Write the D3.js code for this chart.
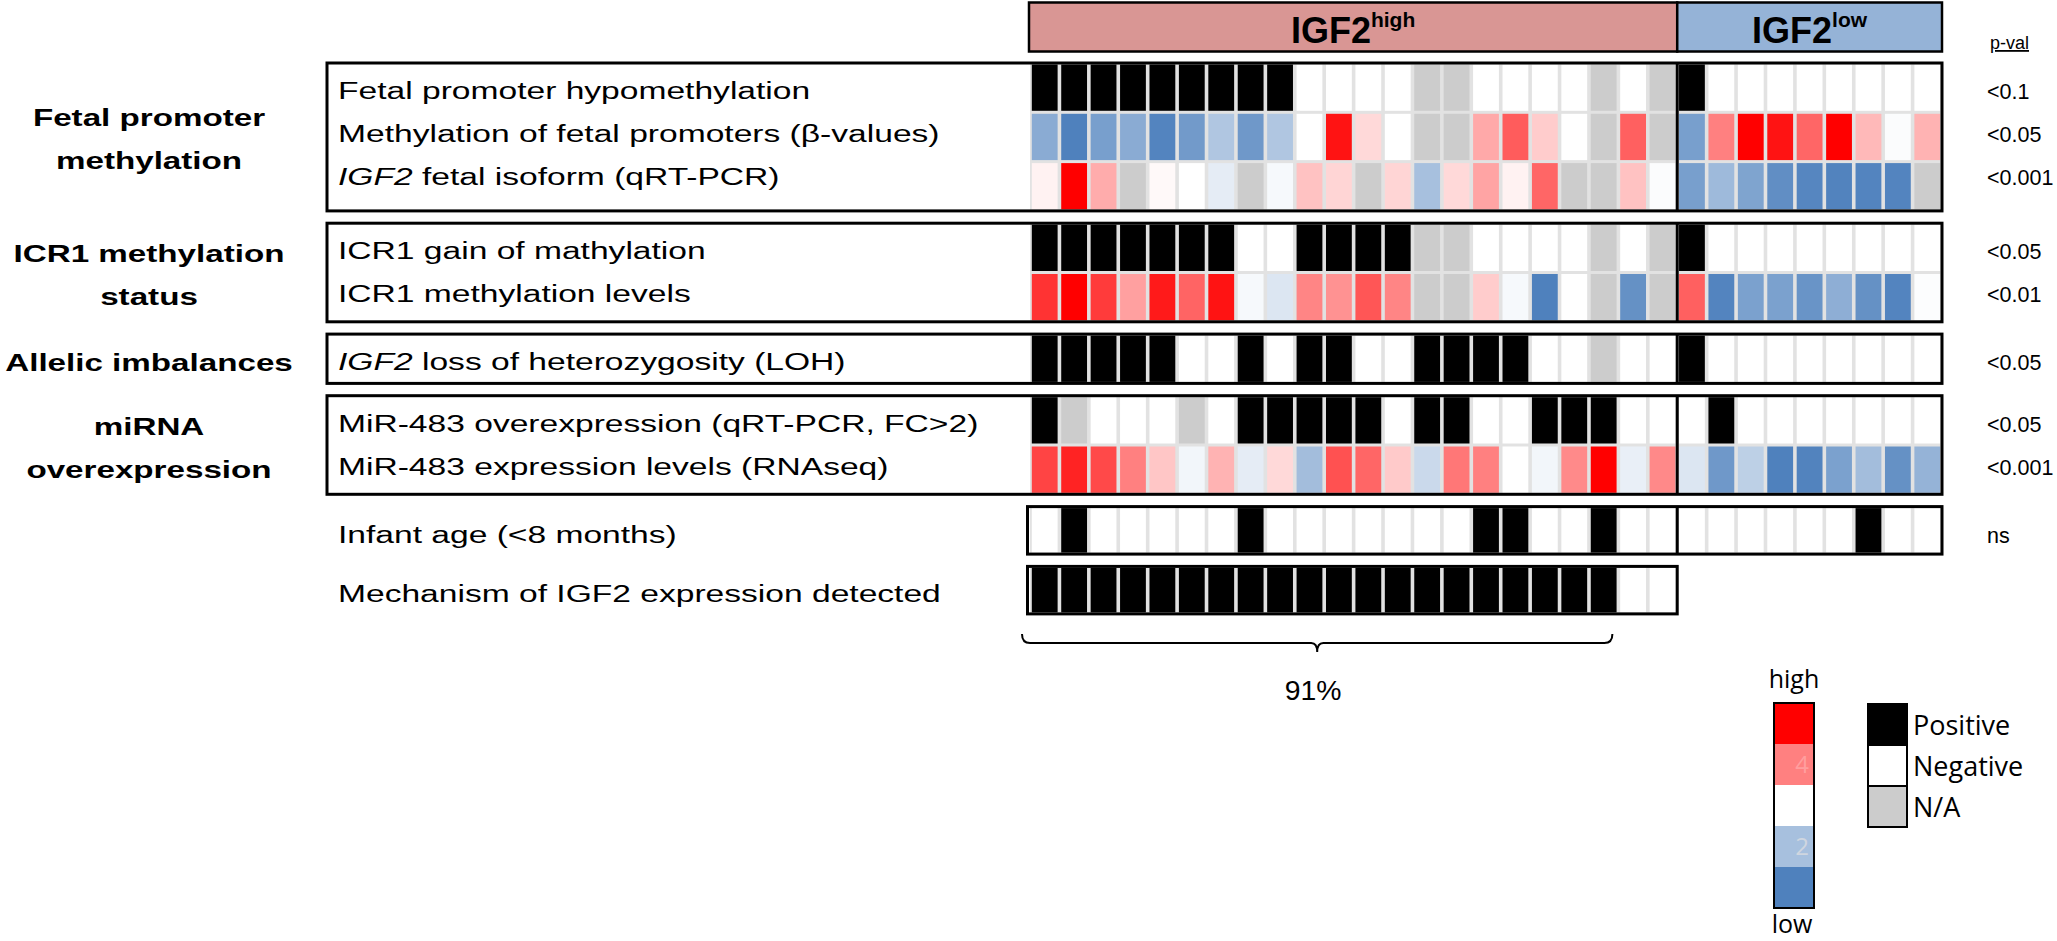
<!DOCTYPE html>
<html><head><meta charset="utf-8">
<script src="https://cdn.jsdelivr.net/npm/d3@7"></script>
<style>body{margin:0;background:#fff} svg{display:block}</style>
</head><body><svg id="c" width="2057" height="941"></svg>
<script>
// ---------------- data ----------------
const N = null;
const groupBase = ["IGF2", "IGF2"];
const groupSup = ["high", "low"];
const groupSizes = [22, 9];
const sectionLabels = [["Fetal promoter", "methylation"], ["ICR1 methylation", "status"], ["Allelic imbalances"], ["miRNA", "overexpression"], [], []];
const sectionRows = [[0, 1, 2], [3, 4], [5], [6, 7], [8], [9]];
const sectionFramed = [true, true, true, true, false, false];
const rowLabels = [
  "Fetal promoter hypomethylation",
  "Methylation of fetal promoters (\u03b2-values)",
  "*IGF2* fetal isoform (qRT-PCR)",
  "ICR1 gain of mathylation",
  "ICR1 methylation levels",
  "*IGF2* loss of heterozygosity (LOH)",
  "MiR-483 overexpression (qRT-PCR, FC>2)",
  "MiR-483 expression levels (RNAseq)",
  "Infant age (<8 months)",
  "Mechanism of IGF2 expression detected"
];
const rowKinds = ["bin", "level", "level", "bin", "level", "bin", "bin", "level", "bin", "bin"];
const pValues = ["<0.1", "<0.05", "<0.001", "<0.05", "<0.01", "<0.05", "<0.05", "<0.001", "ns", ""];

const fetalHypo    = [1,1,1,1,1,1,1,1,1,0,0,0,0,N,N,0,0,0,0,N,0,N,  1,0,0,0,0,0,0,0,0];
const betaValues   = [1.67,1.0,1.47,1.67,1.05,1.4,2.1,1.36,2.1,3.0,4.85,3.3,3.0,N,N,3.68,4.28,3.4,3.0,N,4.25,N,  1.47,4.0,5.0,4.85,4.2,5.0,3.55,2.95,3.6];
const fetalIsoform = [3.1,5.0,3.65,N,3.05,3.0,2.7,N,2.9,3.48,3.33,N,3.33,2.0,3.3,3.72,3.1,4.2,N,N,3.48,2.95,  1.47,1.9,1.55,1.2,1.08,1.03,1.05,1.05,N];
const icr1Gain     = [1,1,1,1,1,1,1,0,0,1,1,1,1,N,N,0,0,0,0,N,0,N,  1,0,0,0,0,0,0,0,0];
const icr1Levels   = [4.6,5.0,4.54,3.75,4.8,4.22,4.85,2.9,2.6,3.96,3.86,4.33,3.96,N,N,3.4,2.9,1.0,3.0,N,1.25,N,  4.25,1.05,1.5,1.5,1.3,1.72,1.25,1.05,2.97];
const loh          = [1,1,1,1,1,0,0,1,0,1,1,0,0,1,1,1,1,0,0,N,0,0,  1,0,0,0,0,0,0,0,0];
const mirOver      = [1,N,0,0,0,N,0,1,1,1,1,1,0,1,1,0,0,1,1,1,0,0,  0,1,0,0,0,0,0,0,0];
const mirLevels    = [4.47,4.73,4.43,4.0,3.45,2.85,3.6,2.7,3.3,1.95,4.37,4.2,3.42,2.4,4.07,4.0,3.0,2.85,3.92,5.0,2.75,3.93,  2.6,1.36,2.25,1.0,1.03,1.5,1.95,1.25,1.8];
const infantAge    = [0,1,0,0,0,0,0,1,0,0,0,0,0,0,0,1,1,0,0,1,0,0,  0,0,0,0,0,0,1,0,0];
const mechanism    = [1,1,1,1,1,1,1,1,1,1,1,1,1,1,1,1,1,1,1,1,0,0];
const rowValues = [fetalHypo, betaValues, fetalIsoform, icr1Gain, icr1Levels, loh, mirOver, mirLevels, infantAge, mechanism];

const levelSteps = [5, 4, 3, 2, 1];
const levelStepLabels = ["", "4", "", "2", ""];
const levelColors = ["#4f81bd", "#a7c0de", "#ffffff", "#ff8080", "#ff0000"];
const binCategories = ["Positive", "Negative", "N/A"];
const binColors = ["#000000", "#ffffff", "#cccccc"];
const coverageCount = 20;
const coverageLabel = "91%";

// ---------------- drawing ----------------
const svg = d3.select("#c");
const nCols = d3.sum(groupSizes);
const x = d3.scaleBand().domain(d3.range(nCols)).range([1030, 1942]);
const bw = x.bandwidth();
const colorLevel = d3.scaleLinear().domain([1, 2, 3, 4, 5]).range(levelColors);
const colorBin = d3.scaleOrdinal().domain([1, 0, "NA"]).range(binColors);
const FONT = "'Liberation Sans', Arial, sans-serif";
const SX = 1.36;            // horizontal stretch of the original figure text
const labelSize = 24.7;

// header
const hdr = svg.append("g");
let start = 0;
groupSizes.forEach((n, g) => {
  const x0 = g === 0 ? x(0) - 1 : x(start);
  const x1 = start + n >= nCols ? x(nCols - 1) + bw : x(start + n);
  hdr.append("rect").attr("x", x0).attr("y", 2.5).attr("width", x1 - x0).attr("height", 49)
    .attr("fill", g === 0 ? "#d99694" : "#95b3d7").attr("stroke", "#000").attr("stroke-width", 2.5);
  const t = hdr.append("text").attr("x", (x0 + x1) / 2).attr("y", 43).attr("text-anchor", "middle")
    .attr("font-family", FONT).attr("font-weight", "bold").attr("fill", "#000");
  t.append("tspan").attr("font-size", 36).text(groupBase[g]);
  t.append("tspan").attr("font-size", 21).attr("dy", -16).text(groupSup[g]);
  start += n;
});
svg.append("text").attr("x", 1990).attr("y", 49).attr("font-family", FONT).attr("font-size", 18)
  .attr("text-decoration", "underline").text("p-val");

// sections
const framedH = 49.3, openH = 47.5, gap = 12.3;
let y = 63;
function stretchedText(parent, tx, ty, str, opts) {
  const g = parent.append("g").attr("transform", `translate(${tx},${ty}) scale(${opts.sx || SX},1)`);
  const t = g.append("text").attr("font-family", FONT).attr("font-size", opts.size)
    .attr("font-weight", opts.bold ? "bold" : "normal").attr("text-anchor", opts.anchor || "start").attr("fill", "#000");
  str.split("*").forEach((seg, k) => { if (seg.length) t.append("tspan").attr("font-style", k % 2 ? "italic" : "normal").text(seg); });
  return t;
}

sectionRows.forEach((rows, s) => {
  const rh = sectionFramed[s] ? framedH : openH;
  const top = y, bottom = y + rows.length * rh;
  const g = svg.append("g");
  const cols = d3.max(rows, r => rowValues[r].length);
  const gx1 = x(cols - 1) + bw;
  // cell background (separators)
  g.append("rect").attr("x", x(0)).attr("y", top).attr("width", gx1 - x(0)).attr("height", bottom - top).attr("fill", "#e2e2e2");
  rows.forEach((r, i) => {
    const ry = top + i * rh;
    g.selectAll(null).data(rowValues[r].map((v, c) => ({ v, c }))).join("rect")
      .attr("x", d => x(d.c) + 1.8).attr("width", bw - 3.6)
      .attr("y", ry + 1.5).attr("height", rh - 3)
      .attr("fill", d => d.v === null ? colorBin("NA") : (rowKinds[r] === "bin" ? colorBin(d.v) : colorLevel(d.v)));
    stretchedText(g, 338, top + 36 + i * 43, rowLabels[r], { size: labelSize });
    if (pValues[r]) g.append("text").attr("x", 1987).attr("y", top + 36 + i * 43)
      .attr("font-family", FONT).attr("font-size", 21.5).text(pValues[r]);
  });
  // frame
  const fx0 = sectionFramed[s] ? 327 : x(0) - 2.5;
  g.append("rect").attr("x", fx0).attr("y", top).attr("width", gx1 - fx0).attr("height", bottom - top)
    .attr("fill", "none").attr("stroke", "#000").attr("stroke-width", 3);
  if (cols > groupSizes[0]) g.append("line").attr("x1", x(groupSizes[0])).attr("x2", x(groupSizes[0]))
    .attr("y1", top).attr("y2", bottom).attr("stroke", "#000").attr("stroke-width", 3);
  // section label
  const lab = sectionLabels[s];
  const cy = (top + bottom) / 2;
  lab.forEach((l, k) => {
    const ly = lab.length === 1 ? cy + 12 : cy - 10.5 + k * 43;
    stretchedText(g, 149, ly, l, { size: 24.4, bold: true, anchor: "middle" });
  });
  y = bottom + gap;
});

// brace for coverage
const bl = x(0) - 8, br = x(coverageCount) - 6, bm = (bl + br) / 2, by = 643;
svg.append("path").attr("fill", "none").attr("stroke", "#000").attr("stroke-width", 2)
  .attr("d", `M${bl},${by - 9} Q${bl},${by} ${bl + 8},${by} L${bm - 6},${by} Q${bm},${by} ${bm},${by + 9} Q${bm},${by} ${bm + 6},${by} L${br - 8},${by} Q${br},${by} ${br},${by - 9}`);
stretchedText(svg, bm - 4, 700, coverageLabel, { size: 27, anchor: "middle", sx: 1.05 });

// level legend
const LF = "'Open Sans', 'Noto Sans', sans-serif";
const ly = d3.scaleBand().domain(levelSteps).range([703, 908]);
const lg = svg.append("g");
lg.selectAll(null).data(levelSteps).join("rect")
  .attr("x", 1774).attr("width", 40).attr("y", d => ly(d)).attr("height", ly.bandwidth())
  .attr("fill", d => colorLevel(d));
lg.selectAll(null).data(levelSteps.map((d, i) => ({ d, l: levelStepLabels[i] })).filter(o => o.l)).join("text")
  .attr("x", 1809).attr("y", o => ly(o.d) + ly.bandwidth() / 2 + 8).attr("text-anchor", "end")
  .attr("font-family", LF).attr("font-size", 24)
  .attr("fill", o => o.d > 3 ? "#ff9e9e" : "#cfd6e0").text(o => o.l);
lg.append("rect").attr("x", 1774).attr("y", 703).attr("width", 40).attr("height", 205)
  .attr("fill", "none").attr("stroke", "#000").attr("stroke-width", 2);
lg.append("text").attr("x", 1794).attr("y", 688).attr("text-anchor", "middle").attr("font-family", LF).attr("font-size", 25).text("high");
lg.append("text").attr("x", 1792).attr("y", 933).attr("text-anchor", "middle").attr("font-family", LF).attr("font-size", 25).text("low");

// binary legend
const cy2 = d3.scaleBand().domain(binCategories).range([704, 827]);
const cg = svg.append("g");
cg.selectAll(null).data(binCategories).join("rect")
  .attr("x", 1868).attr("width", 39).attr("y", d => cy2(d)).attr("height", cy2.bandwidth())
  .attr("fill", (d, i) => binColors[i]).attr("stroke", "#000").attr("stroke-width", 2);
cg.selectAll(null).data(binCategories).join("text")
  .attr("x", 1913).attr("y", d => cy2(d) + cy2.bandwidth() / 2 + 10)
  .attr("font-family", LF).attr("font-size", 27).text(d => d);
</script></body></html>
